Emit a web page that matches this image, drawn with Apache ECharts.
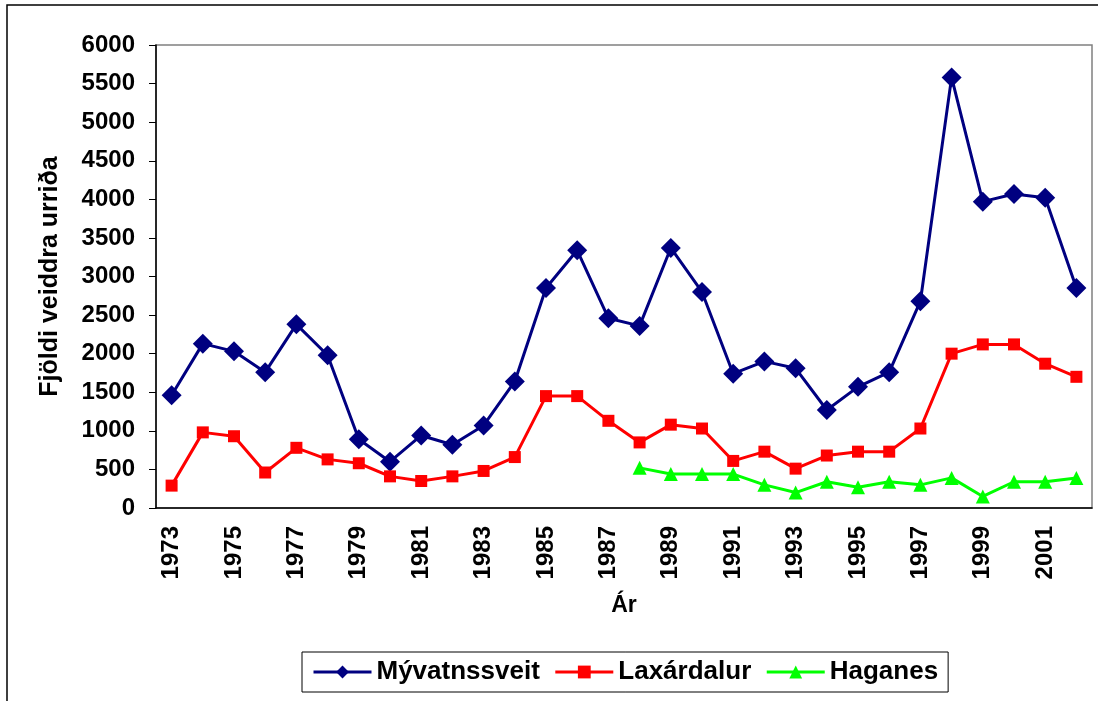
<!DOCTYPE html>
<html>
<head>
<meta charset="utf-8">
<script src="https://cdn.jsdelivr.net/npm/echarts@6/dist/echarts.min.js"></script>
<style>
  html, body { margin: 0; padding: 0; background: #fff; }
  #main { width: 1098px; height: 701px; }
</style>
</head>
<body>
<div id="main"></div>
<script>
var years = [];
for (var y = 1973; y <= 2002; y++) years.push(String(y));

var myvatnssveit = [1460, 2130, 2030, 1760, 2380, 1980, 890, 600, 940, 820, 1070, 1640,
  2850, 3340, 2460, 2360, 3370, 2800, 1740, 1900, 1810, 1270, 1570, 1760, 2680, 5580,
  3970, 4070, 4020, 2850];
var laxardalur = [290, 980, 930, 460, 780, 630, 580, 410, 350, 410, 480, 660,
  1450, 1450, 1130, 850, 1080, 1030, 610, 730, 510, 680, 730, 730, 1030, 2000,
  2120, 2120, 1870, 1700];
var haganes = [null, null, null, null, null, null, null, null, null, null, null, null,
  null, null, null, 520, 440, 440, 440, 300, 200, 340, 270, 340, 300, 390,
  150, 340, 340, 390];

var chartDom = document.getElementById('main');
var myChart = echarts.init(chartDom);
var font = "'Liberation Sans', Arial, sans-serif";
var option;

option = {
    animation: false,
    backgroundColor: '#fff',
    textStyle: { fontFamily: font },
    graphic: [{
        type: 'rect',
        shape: { x: 7, y: 5, width: 1200, height: 800 },
        style: { fill: 'none', stroke: '#000', lineWidth: 1.5 },
        z: -1
    }],
    grid: {
        left: 156, top: 45, right: 6, bottom: 193,
        show: true, borderColor: '#808080', borderWidth: 1.5
    },
    legend: {
        left: 302, top: 652,
        padding: [7, 10],
        itemGap: 14,
        itemWidth: 58, itemHeight: 16,
        borderColor: '#000', borderWidth: 1,
        lineStyle: { width: 3 },
        textStyle: { fontFamily: font, fontWeight: 'bold', fontSize: 26, color: '#000' },
        data: ['Mývatnssveit', 'Laxárdalur', 'Haganes']
    },
    xAxis: {
        type: 'category',
        data: years,
        boundaryGap: true,
        name: 'Ár',
        nameLocation: 'middle',
        nameGap: 86,
        nameTextStyle: { fontFamily: font, fontWeight: 'bold', fontSize: 23, color: '#000' },
        axisLine: { lineStyle: { color: '#000', width: 1.5 } },
        axisTick: { interval: 0, length: 7, lineStyle: { color: '#000' } },
        axisLabel: {
            interval: 1, rotate: 90, margin: 18,
            fontFamily: font, fontWeight: 'bold', fontSize: 24, color: '#000'
        },
        splitLine: { show: false }
    },
    yAxis: {
        type: 'value',
        min: 0, max: 6000, interval: 500,
        name: 'Fjöldi veiddra urriða',
        nameLocation: 'middle',
        nameGap: 93,
        nameRotate: 90,
        nameTextStyle: { fontFamily: font, fontWeight: 'bold', fontSize: 25, color: '#000' },
        axisLine: { show: true, lineStyle: { color: '#000', width: 1.5 } },
        axisTick: { show: true, length: 7, lineStyle: { color: '#000' } },
        axisLabel: {
            margin: 21, fontFamily: font, fontWeight: 'bold', fontSize: 24, color: '#000',
            formatter: function (v) { return String(v); }
        },
        splitLine: { show: false }
    },
    series: [
        {
            name: 'Mývatnssveit',
            type: 'line',
            data: myvatnssveit,
            symbol: 'diamond',
            symbolSize: 20,
            itemStyle: { color: '#000080' },
            lineStyle: { color: '#000080', width: 3 }
        },
        {
            name: 'Laxárdalur',
            type: 'line',
            data: laxardalur,
            symbol: 'rect',
            symbolSize: 12,
            itemStyle: { color: '#ff0000' },
            lineStyle: { color: '#ff0000', width: 3 }
        },
        {
            name: 'Haganes',
            type: 'line',
            data: haganes,
            symbol: 'triangle',
            symbolSize: 14,
            itemStyle: { color: '#00ff00' },
            lineStyle: { color: '#00ff00', width: 3 }
        }
    ]
};

option && myChart.setOption(option);
</script>
</body>
</html>
